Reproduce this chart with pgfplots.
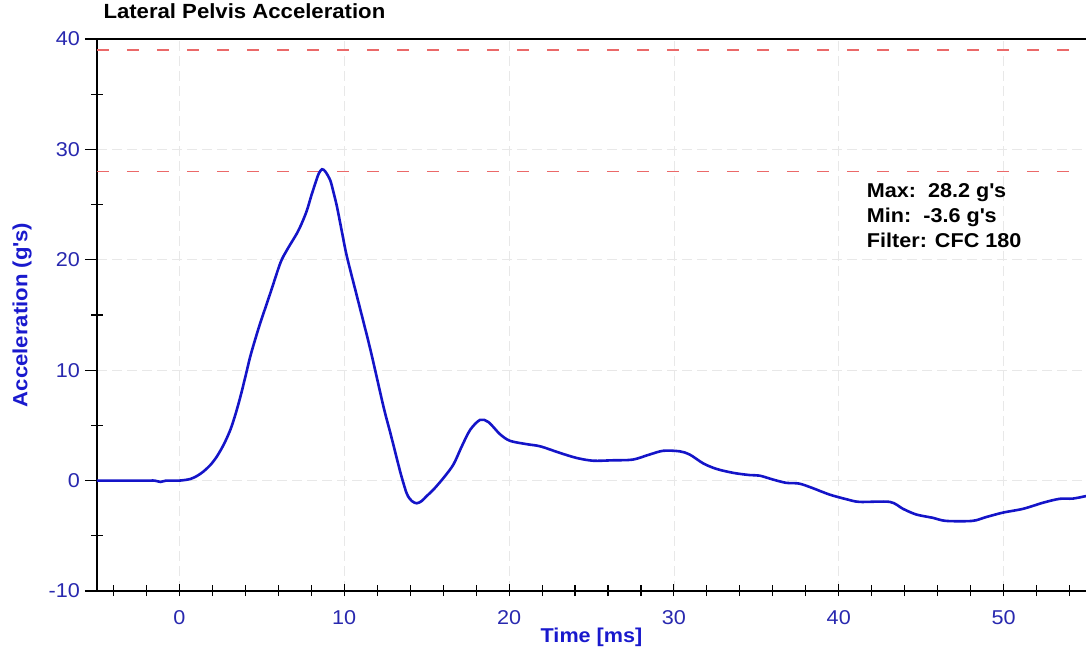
\documentclass[border=0pt]{standalone}
\usepackage{fontspec}
\setmainfont{Liberation Sans}[FakeStretch=1.08]
\usepackage{pgfplots}
\pgfplotsset{compat=1.18}
\definecolor{tickblue}{RGB}{40,40,175}
\definecolor{labelblue}{RGB}{25,25,205}
\definecolor{curveblue}{RGB}{20,20,200}
\definecolor{refred}{RGB}{235,105,105}
\begin{document}
\begin{tikzpicture}
\useasboundingbox (-97bp,-69bp) rectangle (989bp,591bp);
\begin{axis}[
  scale only axis, width=989bp, height=552bp,
  xmin=-5, xmax=55, ymin=-10, ymax=40,
  axis x line*=box, axis y line*=left,
  axis line style={line width=2.6bp, black},
  xtick={0,10,...,50}, ytick={-10,0,...,40},
  minor xtick={-4,-2,...,54}, minor ytick={-5,5,...,35},
  xtick pos=left, ytick pos=left,
  tick align=inside,
  major tick length=12bp, minor tick length=11bp,
  tick style={black, line width=1.1bp},
  major x tick style={yshift=-5bp}, minor x tick style={yshift=-5bp},
  major y tick style={xshift=-12bp}, minor y tick style={xshift=-5.5bp},
  /pgf/number format/assume math mode=true,
  xticklabel style={font=\fontsize{20bp}{20bp}\selectfont, text=tickblue, anchor=base, inner sep=0pt, yshift=-33bp},
  yticklabel style={font=\fontsize{20bp}{20bp}\selectfont, text=tickblue, anchor=east, inner sep=0pt, xshift=-17bp},
  xmajorgrids, ymajorgrids,
  major grid style={black!9, dash pattern=on 10bp off 5bp, line width=0.8bp},
  xlabel={Time [ms]},
  ylabel={Acceleration (g\textquotesingle s)},
  every axis x label/.style={at={(axis description cs:0.5,0)}, anchor=center, yshift=-46bp, font=\bfseries\fontsize{20bp}{24bp}\selectfont, text=labelblue},
  every axis y label/.style={at={(axis description cs:0,0.5)}, xshift=-75bp, rotate=90, anchor=center, font=\bfseries\fontsize{20.5bp}{24bp}\selectfont, text=labelblue},
  title={Lateral Pelvis Acceleration},
  title style={at={(axis description cs:0,1)}, anchor=base west, xshift=3bp, yshift=15bp, font=\bfseries\fontsize{20.5bp}{24bp}\selectfont, text=black},
]
\addplot[refred, line width=1.5bp, dash pattern=on 12bp off 18bp] coordinates {(-5,39) (55,39)};
\addplot[refred, line width=1.5bp, dash pattern=on 12bp off 18bp] coordinates {(-5,28) (55,28)};
\addplot[curveblue, line width=2.6bp, smooth, tension=0.5] coordinates {
(-5,0) (-2,0) (-1.5,0) (-1.15,-0.12) (-0.8,0) (0,0) (0.67,0.15) (1.1,0.45)
(1.47,0.84) (1.9,1.45) (2.28,2.2) (2.7,3.3) (3.09,4.6) (3.4,6.0) (3.70,7.6)
(4.0,9.4) (4.30,11.25) (4.6,12.8) (4.91,14.3) (5.52,17.0) (6.12,19.7) (6.53,20.9)
(7.13,22.4) (7.45,23.4) (7.74,24.5) (8.0,25.8) (8.24,26.9) (8.45,27.8) (8.65,28.2)
(8.85,28.0) (9.15,27.2) (9.35,26.1) (9.56,24.8) (9.85,22.6) (10.16,20.3) (10.77,16.7)
(11.58,11.9) (12.38,6.7) (12.8,4.3) (13.19,2.0) (13.45,0.5) (13.8,-1.2) (14.1,-1.85)
(14.4,-2.05) (14.7,-1.85) (15.0,-1.4) (15.41,-0.82) (16.02,0.24) (16.62,1.45)
(17.13,3.1) (17.64,4.6) (18.24,5.5) (18.75,5.3) (19.45,4.2) (20.06,3.6) (21.07,3.3)
(21.9,3.1) (23.1,2.5) (24.1,2.05) (25.1,1.8) (26.3,1.84) (27.5,1.9) (28.5,2.35)
(29.35,2.7) (30.36,2.65) (30.97,2.35) (31.8,1.54) (32.6,1.05) (33.6,0.7) (34.6,0.5)
(35.2,0.45) (36.0,0.1) (36.8,-0.2) (37.6,-0.27) (38.4,-0.67) (39.45,-1.27) (40.5,-1.7)
(41.27,-1.93) (43.1,-1.93) (43.9,-2.56) (44.7,-3.07) (45.7,-3.37) (46.5,-3.65)
(48.1,-3.65) (48.95,-3.3) (49.96,-2.9) (51.2,-2.55) (52.4,-2.0) (53.4,-1.65)
(54.2,-1.63) (55,-1.4)
};
\node[anchor=north west, inner sep=0pt, align=left, font=\bfseries\fontsize{20bp}{25bp}\selectfont] at (axis cs:41.7,26.9)
  {Max:~~28.2 g\textquotesingle s\\Min:~~-3.6 g\textquotesingle s\\Filter: CFC 180};
\end{axis}
\end{tikzpicture}
\end{document}
